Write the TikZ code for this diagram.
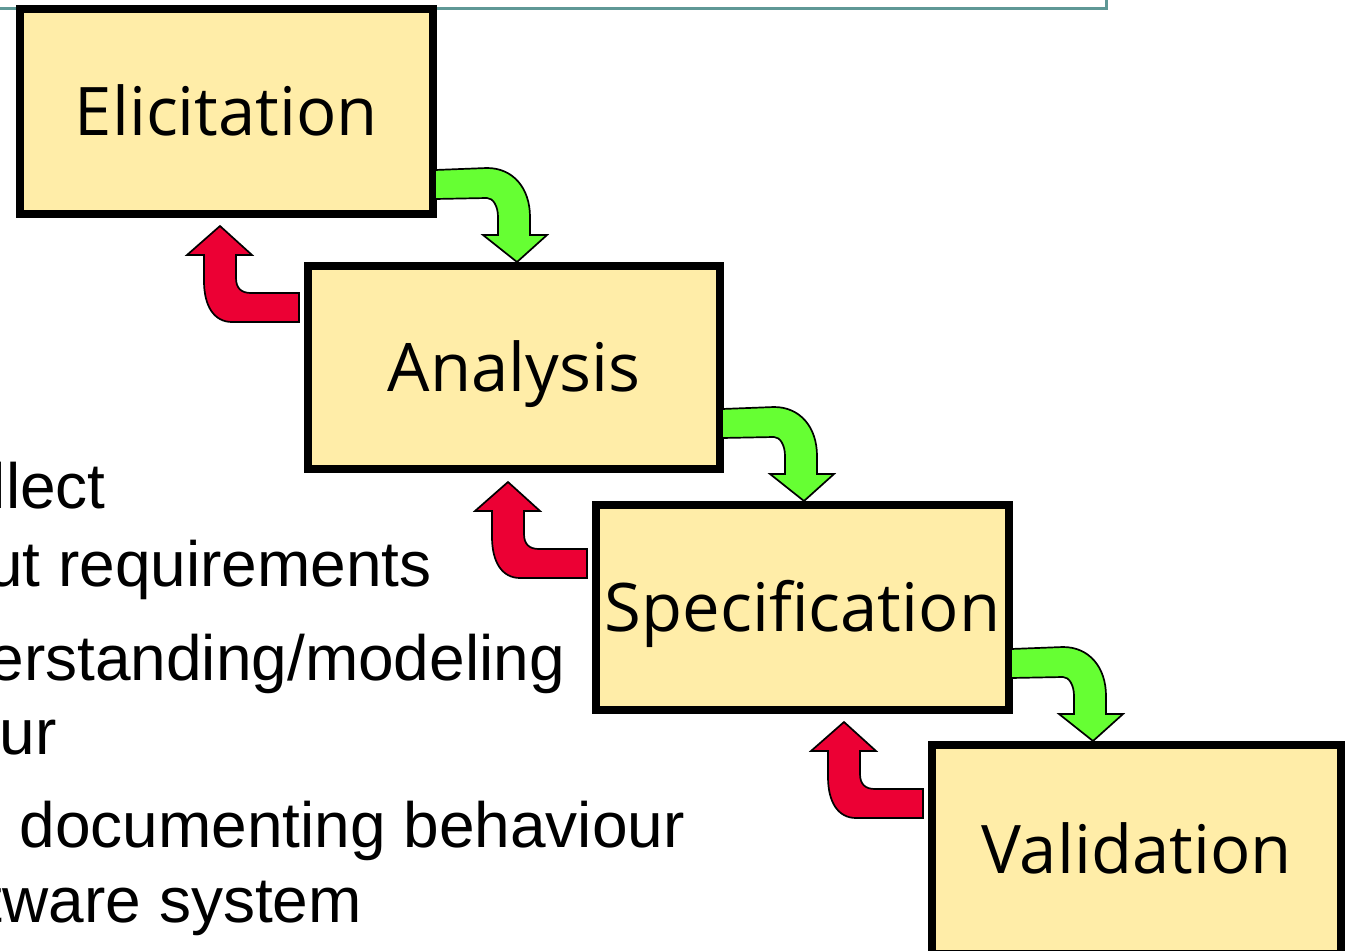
\documentclass[tikz,border=0pt]{standalone}
\usepackage{fontspec}
\setmainfont{Liberation Sans}
\newfontfamily\labelfont{Open Sans}
\usetikzlibrary{calc}
\definecolor{boxfill}{RGB}{255,237,168}
\definecolor{arrgreen}{RGB}{102,255,51}
\definecolor{arrred}{RGB}{236,0,52}
\definecolor{rulecol}{RGB}{95,152,150}
\begin{document}
\begin{tikzpicture}[x=1pt,y=-1pt,
  stagebox/.style={draw=black, line width=8pt, fill=boxfill, minimum width=413pt,
    minimum height=205pt, inner sep=0pt, font=\labelfont\fontsize{67}{80}\selectfont,
    text height=48pt, text depth=0pt},
  bodytext/.style={font=\fontsize{64}{76}\selectfont, inner sep=0pt, anchor=base east},
  blockarrow/.style={draw=black, line width=1.7pt, line join=miter},
  greenarrow/.pic={\path[blockarrow, fill=arrgreen] (-82,-92) -- (-30,-94)
    .. controls (-4,-94) and (13,-74) .. (13,-45) -- (13,-27) -- (30,-27) -- (0,0)
    -- (-34,-27) -- (-19,-27) -- (-19,-45) .. controls (-19,-56) and (-24,-64) .. (-30,-64)
    -- (-82,-63) -- cycle;},
  redarrow/.pic={\path[blockarrow, fill=arrred] (0,0) -- (32,29) -- (16,29) -- (16,52)
    .. controls (16,62) and (21,67) .. (31,67) -- (79,67) -- (79,96) -- (12,96)
    .. controls (-6,96) and (-16,80) .. (-16,55) -- (-16,29) -- (-33,29) -- cycle;}
]
\useasboundingbox (0,0) rectangle (1351,950);
\clip (0,0) rectangle (1351,950);

% background slide text (cut at the left edge, as in the reference)
\node[bodytext] (t1) at (106,508) {llect};
\node[bodytext] (t2) at (432,586) {ut requirements};
\node[bodytext] (t3) at (565,680) {erstanding/modeling};
\node[bodytext] (t4) at (57,754) {ur};
\node[bodytext] (t5) at (685,847) {documenting behaviour};
\node[bodytext] (t6) at (362,922) {tware system};

% title rule
\draw[rulecol, line width=3pt] (0,8.5) -- (1106.5,8.5) -- (1106.5,0);

% stages
\node[stagebox] (b1) at (226.5,111.5) {Elicitation};
\node[stagebox, minimum height=203pt, minimum width=412pt] (b2) at (514,367.5) {Analysis};
\node[stagebox] (b3) at (802.5,607.5) {Specification};
\node[stagebox, minimum width=409pt, minimum height=209pt] (b4) at (1136.5,849.5) {Validation};

% forward arrows
\pic at ($(b1.east |- b2.north)+(80,0)$) {greenarrow};
\pic at ($(b2.east |- b3.north)+(80,0)$) {greenarrow};
\pic at ($(b3.east |- b4.north)+(80,0)$) {greenarrow};

% backward arrows
\pic at ($(b2.west |- b1.south)+(-84,8)$) {redarrow};
\pic at ($(b3.west |- b2.south)+(-84,9)$) {redarrow};
\pic at ($(b4.west |- b3.south)+(-84,8)$) {redarrow};
\end{tikzpicture}
\end{document}
